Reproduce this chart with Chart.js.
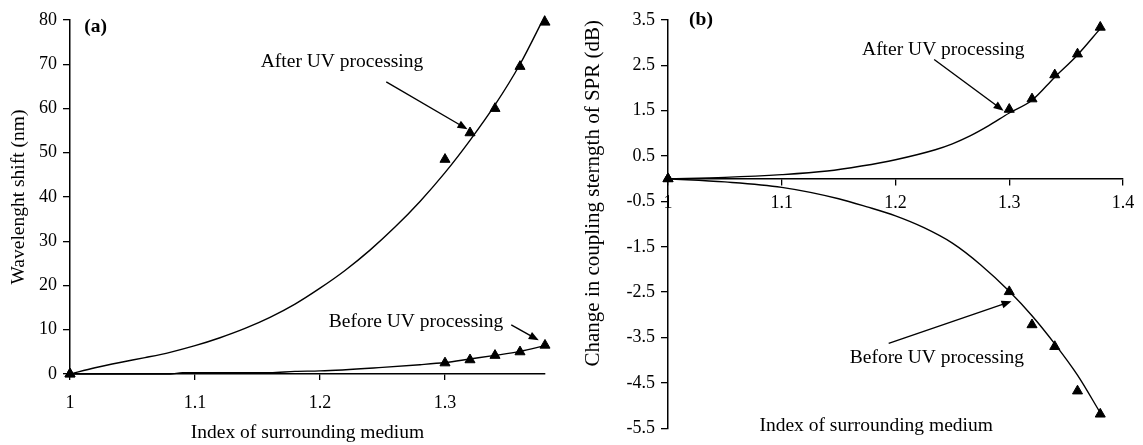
<!DOCTYPE html>
<html>
<head>
<meta charset="utf-8">
<script src="https://cdn.jsdelivr.net/npm/chart.js@4.4.1/dist/chart.umd.min.js"></script>
<style>
html, body { margin: 0; padding: 0; background: #fff; }
#wrap { position: relative; width: 1143px; height: 445px; }
.panel { position: absolute; top: 0; height: 445px; }
#panelA { left: 0; width: 571px; }
#panelB { left: 571px; width: 572px; }
</style>
</head>
<body>
<div id="wrap">
  <div class="panel" id="panelA"><canvas id="chartA"></canvas></div>
  <div class="panel" id="panelB"><canvas id="chartB"></canvas></div>
</div>
<script>
// measured points (refractive index of surrounding medium)
const indexPoints = [1, 1.30, 1.32, 1.34, 1.36, 1.38];

// (a) wavelength shift, nm
const shiftAfter = [0, 48.5, 54.5, 60, 69.5, 79.5];
const shiftBefore = [0, 2.5, 3.2, 4.2, 5.0, 6.5];
const fitIndexAfterA = [1, 1.02, 1.04, 1.06, 1.08, 1.10, 1.12, 1.14, 1.16, 1.18, 1.20, 1.22, 1.24, 1.26, 1.28, 1.30, 1.32, 1.34, 1.36, 1.38];
const fitShiftAfter = [0, 1.4, 2.6, 3.7, 4.9, 6.4, 8.2, 10.3, 12.8, 15.8, 19.4, 23.4, 28.0, 33.2, 39.0, 45.5, 52.8, 60.8, 70.0, 81.0];
const fitIndexBeforeA = [1, 1.08, 1.09, 1.16, 1.18, 1.20, 1.25, 1.28, 1.30, 1.32, 1.34, 1.36, 1.38];
const fitShiftBefore = [0, 0, 0.3, 0.3, 0.6, 0.7, 1.5, 2.1, 2.6, 3.4, 4.2, 5.1, 6.4];

// (b) change in coupling strength, dB
const couplingAfter = [0, 1.53, 1.76, 2.29, 2.75, 3.34];
const couplingBefore = [0, -2.49, -3.22, -3.70, -4.68, -5.19];
const fitIndexAfterB = [1, 1.05, 1.10, 1.14, 1.17, 1.20, 1.235, 1.25, 1.266, 1.282, 1.30, 1.32, 1.34, 1.36, 1.38];
const fitCouplingAfter = [0, 0.03, 0.09, 0.17, 0.28, 0.42, 0.64, 0.77, 0.95, 1.17, 1.45, 1.73, 2.24, 2.73, 3.31];
const fitIndexBeforeB = [1, 1.05, 1.10, 1.15, 1.175, 1.20, 1.225, 1.25, 1.275, 1.30, 1.32, 1.34, 1.36, 1.38];
const fitCouplingBefore = [0, -0.07, -0.19, -0.44, -0.62, -0.82, -1.08, -1.42, -1.90, -2.48, -3.02, -3.64, -4.33, -5.16];

// tick labels
const xTicksA = [1, 1.1, 1.2, 1.3];
const yTicksA = [0, 10, 20, 30, 40, 50, 60, 70, 80];
const xTicksB = [1, 1.1, 1.2, 1.3, 1.4];
const yTicksB = [-5.5, -4.5, -3.5, -2.5, -1.5, -0.5, 0.5, 1.5, 2.5, 3.5];

const serif = 'Liberation Serif, Times New Roman, serif';
const tickFont = { family: serif, size: 18 };
const textFont = { family: serif, size: 19.5 };

const toXY = (xs, ys) => xs.map((x, i) => ({ x: x, y: ys[i] }));
const plainLabel = v => String(v);

// draws the panel letter, the arrows and the curve names
const notesPlugin = {
    id: 'notes',
    afterDatasetsDraw(chart, args, opts) {
        const { ctx } = chart;
        const x = chart.scales.x, y = chart.scales.y;
        ctx.save();
        ctx.fillStyle = '#000';
        ctx.strokeStyle = '#000';
        (opts.arrows || []).forEach(a => {
            const x1 = x.getPixelForValue(a.from[0]), y1 = y.getPixelForValue(a.from[1]);
            const x2 = x.getPixelForValue(a.to[0]), y2 = y.getPixelForValue(a.to[1]);
            const ang = Math.atan2(y2 - y1, x2 - x1);
            const len = 10, half = 4;
            ctx.lineWidth = 1.4;
            ctx.beginPath();
            ctx.moveTo(x1, y1);
            ctx.lineTo(x2 - Math.cos(ang) * len * 0.8, y2 - Math.sin(ang) * len * 0.8);
            ctx.stroke();
            ctx.beginPath();
            ctx.moveTo(x2, y2);
            ctx.lineTo(x2 - Math.cos(ang) * len - Math.sin(ang) * half, y2 - Math.sin(ang) * len + Math.cos(ang) * half);
            ctx.lineTo(x2 - Math.cos(ang) * len + Math.sin(ang) * half, y2 - Math.sin(ang) * len - Math.cos(ang) * half);
            ctx.closePath();
            ctx.fill();
        });
        (opts.labels || []).forEach(l => {
            ctx.font = (l.bold ? 'bold ' : '') + textFont.size + 'px ' + serif;
            ctx.textAlign = 'center';
            ctx.textBaseline = 'middle';
            ctx.fillText(l.text, x.getPixelForValue(l.x), y.getPixelForValue(l.y));
        });
        ctx.restore();
    }
};

const lineSet = (pts) => ({
    data: pts, showLine: true, borderColor: '#000', borderWidth: 1.4,
    pointRadius: 0, cubicInterpolationMode: 'monotone', clip: false
});
const markSet = (pts) => ({
    data: pts, showLine: false, pointStyle: 'triangle', pointRadius: 5.8,
    backgroundColor: '#000', borderColor: '#000', borderWidth: 1, clip: false
});

const axisLine = { color: '#000', width: 1.5 };
const tickGrid = { drawOnChartArea: false, color: '#000', lineWidth: 1.3, tickLength: 6 };

new Chart(document.getElementById('chartA'), {
    type: 'scatter',
    data: {
        datasets: [
            lineSet(toXY(fitIndexAfterA, fitShiftAfter)),
            lineSet(toXY(fitIndexBeforeA, fitShiftBefore)),
            markSet(toXY(indexPoints, shiftAfter)),
            markSet(toXY(indexPoints, shiftBefore))
        ]
    },
    options: {
        responsive: true,
        maintainAspectRatio: false,
        animation: false,
        layout: { padding: { top: 20, right: 26, left: 0, bottom: 0 } },
        plugins: {
            legend: { display: false },
            tooltip: { enabled: false },
            notes: {
                labels: [
                    { text: '(a)', x: 1.0204, y: 78.4, bold: true },
                    { text: 'After UV processing', x: 1.2176, y: 70.5 },
                    { text: 'Before UV processing', x: 1.2768, y: 11.75 }
                ],
                arrows: [
                    { from: [1.253, 66], to: [1.318, 55.3] },
                    { from: [1.353, 11.1], to: [1.375, 7.6] }
                ]
            }
        },
        scales: {
            x: {
                type: 'linear', min: 1, max: 1.38,
                afterBuildTicks: s => { s.ticks = xTicksA.map(v => ({ value: v })); },
                afterFit: s => { s.height = 71; },
                border: axisLine,
                grid: tickGrid,
                ticks: { color: '#000', font: tickFont, padding: 12, maxRotation: 0, callback: plainLabel },
                title: { display: true, text: 'Index of surrounding medium', color: '#000', font: textFont, padding: 0 }
            },
            y: {
                min: 0, max: 80,
                afterBuildTicks: s => { s.ticks = yTicksA.map(v => ({ value: v })); },
                afterFit: s => { s.width = 70; },
                border: axisLine,
                grid: Object.assign({}, tickGrid, { tickLength: 7 }),
                ticks: { color: '#000', font: tickFont, padding: 6, callback: plainLabel },
                title: { display: true, text: 'Wavelenght shift (nm)', color: '#000', font: textFont, padding: { top: 7, bottom: 0 } }
            }
        }
    },
    plugins: [notesPlugin]
});

new Chart(document.getElementById('chartB'), {
    type: 'scatter',
    data: {
        datasets: [
            lineSet(toXY(fitIndexAfterB, fitCouplingAfter)),
            lineSet(toXY(fitIndexBeforeB, fitCouplingBefore)),
            markSet(toXY(indexPoints, couplingAfter)),
            markSet(toXY(indexPoints, couplingBefore))
        ]
    },
    options: {
        responsive: true,
        maintainAspectRatio: false,
        animation: false,
        layout: { padding: { top: 20, right: 20, left: 0, bottom: 11 } },
        plugins: {
            legend: { display: false },
            tooltip: { enabled: false },
            notes: {
                labels: [
                    { text: '(b)', x: 1.029, y: 3.5, bold: true },
                    { text: 'After UV processing', x: 1.242, y: 2.85 },
                    { text: 'Before UV processing', x: 1.2364, y: -3.96 },
                    { text: 'Index of surrounding medium', x: 1.183, y: -5.45 }
                ],
                arrows: [
                    { from: [1.234, 2.63], to: [1.295, 1.5] },
                    { from: [1.194, -3.63], to: [1.302, -2.7] }
                ]
            }
        },
        scales: {
            x: {
                type: 'linear', min: 1, max: 1.4,
                position: { y: 0 },
                afterBuildTicks: s => { s.ticks = xTicksB.map(v => ({ value: v })); },
                border: axisLine,
                grid: tickGrid,
                ticks: { color: '#000', font: tickFont, padding: 8, maxRotation: 0, callback: plainLabel }
            },
            y: {
                min: -5.5, max: 3.5,
                afterBuildTicks: s => { s.ticks = yTicksB.map(v => ({ value: v })); },
                afterFit: s => { s.width = 97; },
                border: axisLine,
                grid: Object.assign({}, tickGrid, { tickLength: 7 }),
                ticks: { color: '#000', font: tickFont, padding: 6, callback: plainLabel },
                title: { display: true, text: 'Change in coupling sterngth of SPR (dB)', color: '#000', font: { family: serif, size: 21 }, padding: { top: 10, bottom: 0 }, align: 'end' }
            }
        }
    },
    plugins: [notesPlugin]
});
</script>
</body>
</html>
